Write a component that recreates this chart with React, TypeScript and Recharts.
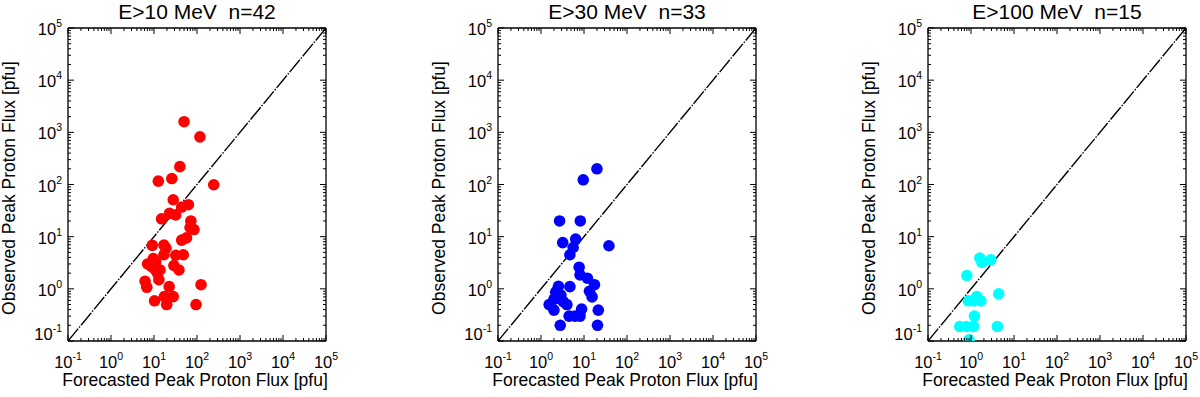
import { ScatterChart, Scatter, XAxis, YAxis } from "recharts";

const FONT = "'Liberation Sans', Arial, Helvetica, sans-serif";

const panelTitles = ["E>10 MeV  n=42", "E>30 MeV  n=33", "E>100 MeV  n=15"];
const panelColors = ["#ff0000", "#0000ff", "#00ffff"];
const xTitle = "Forecasted Peak Proton Flux [pfu]";
const yTitle = "Observed Peak Proton Flux [pfu]";

// E>10 MeV
const e10Forecast = [
  50, 117, 40, 12.6, 26, 245, 28, 44, 63, 23, 32, 15, 72, 69, 85, 44, 57, 9.1, 17, 19, 17,
  32, 48, 9.6, 7.1, 8.7, 29, 38, 10.3, 13.8, 12, 13, 6.2, 6.8, 22.5, 124, 10.3, 17.4, 28, 19.7,
  95, 11,
];
const e10Observed = [
  1600, 820, 220, 116, 130, 99, 51, 37, 41, 28, 26, 22, 20, 15, 13.7, 8.6, 9.5, 6.8, 6.9, 6.0,
  4.5, 4.4, 4.5, 3.8, 3.0, 2.7, 2.8, 2.3, 2.4, 2.3, 2.0, 1.5, 1.4, 1.07, 1.1, 1.2, 0.59, 0.71,
  0.71, 0.5, 0.5, 3.3,
];

// E>30 MeV
const e30Forecast = [
  20, 9.6, 2.7, 8.2, 3.2, 6.4, 5.6, 4.7, 38, 7.7, 8.1, 12, 17.5, 13.4, 15.4, 4.7, 2.55, 2.2,
  2.9, 2.0, 3.3, 4.0, 1.55, 2.0, 8.8, 21.5, 4.5, 6.2, 8.1, 2.8, 20.6, 2.5, 2.4,
];
const e30Observed = [
  200, 123, 20, 20, 7.7, 9.0, 6.2, 4.5, 6.7, 2.6, 1.85, 1.6, 1.2, 0.9, 0.7, 1.1, 1.12, 0.86,
  0.76, 0.63, 0.57, 0.5, 0.5, 0.39, 0.41, 0.39, 0.3, 0.3, 0.3, 0.2, 0.2, 0.66, 0.95,
];

// E>100 MeV
const e100Forecast = [1.6, 1.8, 2.9, 0.8, 4.4, 0.87, 1.36, 1.7, 1.14, 1.2, 0.55, 0.79, 1.14, 4.1, 0.9];
const e100Observed = [3.9, 3.2, 3.6, 1.8, 0.8, 0.59, 0.71, 0.59, 0.59, 0.3, 0.19, 0.19, 0.19, 0.19, 0.105];

const majorTicks = [0.1, 1, 10, 100, 1000, 10000, 100000];
const minorMultipliers = [2, 3, 4, 5, 6, 7, 8, 9];
const axisDomain = [0.1, 100000];
// one-to-one line
const diagonal = [
  { x: 0.1, y: 0.1 },
  { x: 100000, y: 100000 },
];

const allTicks: number[] = [];
majorTicks.forEach((m, i) => {
  allTicks.push(m);
  if (i < majorTicks.length - 1) minorMultipliers.forEach((k) => allTicks.push(k * m));
});

const isMajor = (v: number) => Math.abs(Math.log10(v) - Math.round(Math.log10(v))) < 1e-6;

function LogTick(props: any) {
  const { x, y, payload, side } = props;
  const v = payload.value;
  const major = isMajor(v);
  const len = major ? 6 : 3;
  const exp = Math.round(Math.log10(v));
  const label = (tx: number, ty: number, anchor: string) => (
    <text x={tx} y={ty} textAnchor={anchor} fontFamily={FONT} fontSize={16.5} fill="#000">
      10
      <tspan dy={-8} fontSize={10.5}>
        {exp}
      </tspan>
    </text>
  );
  if (side === "bottom")
    return (
      <g>
        <line x1={x} y1={y} x2={x} y2={y - len} stroke="#000" />
        {major && label(x, y + 27, "middle")}
      </g>
    );
  if (side === "top")
    return <line x1={x} y1={y} x2={x} y2={y + len} stroke="#000" />;
  if (side === "left")
    return (
      <g>
        <line x1={x} y1={y} x2={x + len} y2={y} stroke="#000" />
        {major && label(x - 6, exp === -1 ? y - 1 : y + 7, "end")}
      </g>
    );
  return <line x1={x} y1={y} x2={x - len} y2={y} stroke="#000" />;
}

const axisStyle = { stroke: "#000", strokeWidth: 1.3 };

function Panel({ forecast, observed, color }: { forecast: number[]; observed: number[]; color: string }) {
  const points = forecast.map((f, i) => ({ x: f, y: observed[i] }));
  const common = {
    type: "number" as const,
    scale: "log" as const,
    domain: axisDomain,
    allowDataOverflow: true,
    ticks: allTicks,
    interval: 0 as const,
    tickSize: 0,
    tickMargin: 0,
    tickLine: false,
    axisLine: axisStyle,
  };
  return (
    <ScatterChart width={340} height={397} margin={{ top: 24, right: 10, bottom: 6, left: 8 }}>
      <XAxis xAxisId="b" dataKey="x" {...common} height={50} tick={(p: any) => <LogTick {...p} side="bottom" />} />
      <XAxis xAxisId="t" dataKey="x" orientation="top" {...common} height={4} tick={(p: any) => <LogTick {...p} side="top" />} />
      <YAxis yAxisId="l" dataKey="y" {...common} width={60} tick={(p: any) => <LogTick {...p} side="left" />} />
      <YAxis yAxisId="r" dataKey="y" orientation="right" {...common} width={4} tick={(p: any) => <LogTick {...p} side="right" />} />
      <Scatter
        xAxisId="t"
        yAxisId="r"
        data={diagonal}
        isAnimationActive={false}
        line={{ stroke: "#000", strokeWidth: 1.4, strokeDasharray: "16 1.5 1.5 1.5" }}
        shape={() => <g />}
      />
      <Scatter
        xAxisId="b"
        yAxisId="l"
        data={points}
        isAnimationActive={false}
        shape={(p: any) => <circle cx={p.cx} cy={p.cy} r={5.8} fill={color} />}
      />
    </ScatterChart>
  );
}

const panels = [
  { forecast: e10Forecast, observed: e10Observed },
  { forecast: e30Forecast, observed: e30Observed },
  { forecast: e100Forecast, observed: e100Observed },
];

export default function App() {
  return (
    <div style={{ position: "absolute", left: 0, top: 0, width: 1200, height: 397, background: "#fff", overflow: "hidden" }}>
      {panels.map((p, i) => (
        <div key={i} style={{ position: "absolute", left: i * 430, top: 0 }}>
          <Panel forecast={p.forecast} observed={p.observed} color={panelColors[i]} />
        </div>
      ))}
      <svg width={1200} height={397} style={{ position: "absolute", left: 0, top: 0, pointerEvents: "none" }}>
        {panelTitles.map((t, i) => (
          <g key={i} fontFamily={FONT} fill="#000">
            <text x={197 + i * 430} y={18.5} textAnchor="middle" fontSize={21} style={{ whiteSpace: "pre" }}>
              {t}
            </text>
            <text x={195 + i * 430} y={386} textAnchor="middle" fontSize={17.5}>
              {xTitle}
            </text>
            <text transform={`translate(${15 + i * 430},188) rotate(-90)`} textAnchor="middle" fontSize={17.5}>
              {yTitle}
            </text>
          </g>
        ))}
      </svg>
    </div>
  );
}
